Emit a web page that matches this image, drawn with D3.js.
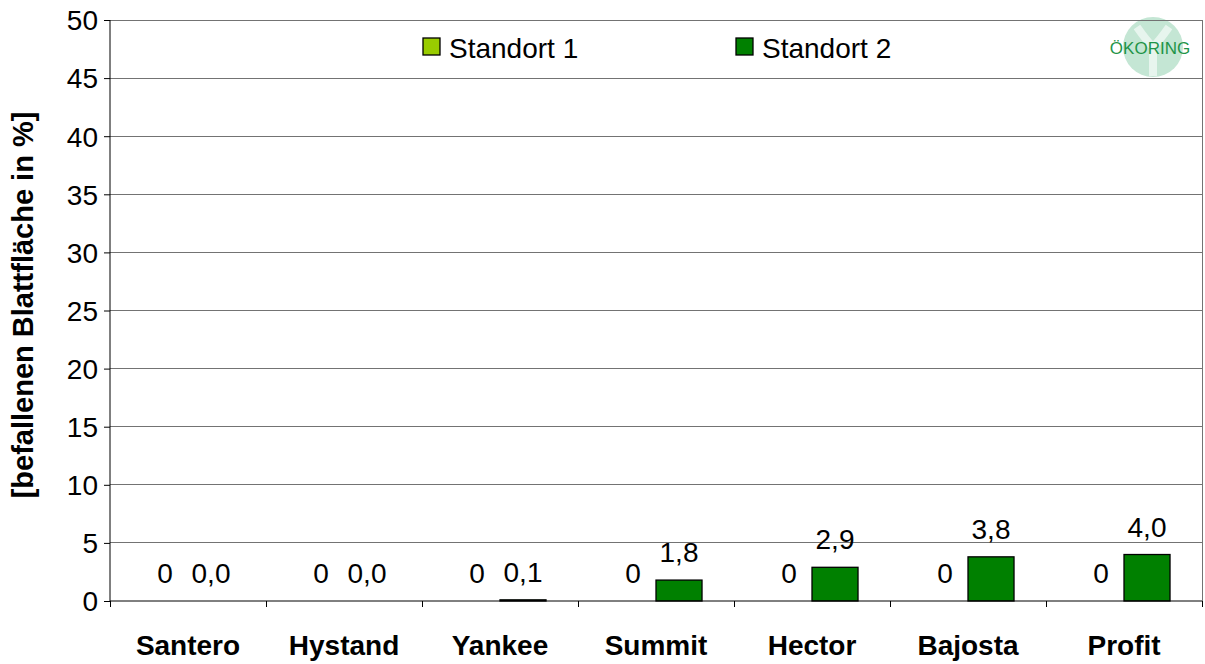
<!DOCTYPE html>
<html><head><meta charset="utf-8">
<script src="https://cdn.jsdelivr.net/npm/d3@7"></script>
<style>body{margin:0;background:#fff;}svg{display:block;font-family:"Liberation Sans",Arial,sans-serif;}</style>
</head><body><svg id="c" width="1205" height="664"></svg>
<script>
const categories = ["Santero","Hystand","Yankee","Summit","Hector","Bajosta","Profit"];
const standort1 = [0,0,0,0,0,0,0];
const standort2 = [0.0,0.0,0.1,1.8,2.9,3.8,4.0];
const seriesNames = ["Standort 1","Standort 2"];
const seriesColors = ["#99cc00","#008000"];
const yTicks = [0,5,10,15,20,25,30,35,40,45,50];
const yTitle = "[befallenen Blattfläche in %]";
const label1 = ["0","0","0","0","0","0","0"];
const label2 = ["0,0","0,0","0,1","1,8","2,9","3,8","4,0"];

const svg = d3.select("#c");
const m = {l:110, r:1202, t:20, b:601};
const x = d3.scaleBand().domain(categories).range([m.l, m.r]).padding(0);
const y = d3.scaleLinear().domain([0,50]).range([m.b, m.t]);
const FS = 28;

// logo (behind plot frame)
const lg = svg.append("g");
lg.append("circle").attr("cx", 1153).attr("cy", 47).attr("r", 30).attr("fill", "#c4e6d4");
lg.append("path").attr("d","M1137,27 Q1146,40 1153,47 Q1160,40 1169,27 M1153,47 L1153,76")
  .attr("stroke","#fff").attr("stroke-width",8).attr("fill","none").attr("opacity",0.6);
lg.append("text").attr("x", 1150).attr("y", 54).attr("text-anchor","middle").attr("font-size", 17)
  .attr("fill","#1f9448").attr("font-family","Liberation Sans, Arial, sans-serif").text("ÖKORING");

// gridlines
svg.append("g").selectAll("line").data(yTicks.filter(d=>d>0)).join("line")
  .attr("x1", m.l).attr("x2", m.r).attr("y1", d=>y(d)).attr("y2", d=>y(d))
  .attr("stroke", "#737373").attr("stroke-width", 1).attr("shape-rendering","crispEdges");
// right frame
svg.append("line").attr("x1", m.r).attr("x2", m.r).attr("y1", m.t).attr("y2", m.b)
  .attr("stroke","#737373").attr("shape-rendering","crispEdges");

// bars
const bw = x.bandwidth() * 0.295;
const series = [standort1, standort2];
series.forEach((s, si) => {
  svg.append("g").selectAll("rect").data(categories).join("rect")
    .attr("x", d => x(d) + x.bandwidth()/2 + (si === 0 ? -bw : 0))
    .attr("width", bw)
    .attr("y", (d,i) => y(s[i]))
    .attr("height", (d,i) => y(0) - y(s[i]))
    .attr("fill", seriesColors[si]).attr("stroke", "#000").attr("stroke-width", 1.3)
    .style("display", (d,i) => s[i] > 0 ? null : "none");
});

// value labels
const labels = [label1, label2];
series.forEach((s, si) => {
  svg.append("g").selectAll("text").data(categories).join("text")
    .attr("x", d => x(d) + x.bandwidth()/2 + (si === 0 ? -bw/2 : bw/2))
    .attr("y", (d,i) => y(s[i]) - 18)
    .attr("text-anchor","middle").attr("font-size", FS).attr("fill","#000")
    .text((d,i) => labels[si][i]);
});

// axes
const ya = d3.axisLeft(y).tickValues(yTicks).tickSize(6).tickFormat(d3.format("d")).tickPadding(6);
const gy = svg.append("g").attr("transform", `translate(${m.l},0)`).call(ya);
gy.select(".domain").attr("stroke","#000").attr("d", `M-0,${m.t}V${m.b}`);
gy.selectAll(".tick line").attr("stroke","#000");
gy.selectAll("text").attr("font-size", FS).attr("font-family","Liberation Sans, Arial, sans-serif").attr("fill","#000").attr("dy","0.35em");

const xa = d3.axisBottom(x).tickSize(0).tickPadding(34);
const gx = svg.append("g").attr("transform", `translate(0,${m.b})`).call(xa);
gx.select(".domain").attr("stroke","#000").attr("d", `M${m.l},0H${m.r}`);
gx.selectAll("text").attr("font-size", FS).attr("font-weight","bold").attr("font-family","Liberation Sans, Arial, sans-serif").attr("fill","#000");
// category boundary ticks
svg.append("g").selectAll("line").data(d3.range(categories.length + 1)).join("line")
  .attr("x1", i => m.l + i * x.step()).attr("x2", i => m.l + i * x.step())
  .attr("y1", m.b).attr("y2", m.b + 6).attr("stroke","#000").attr("shape-rendering","crispEdges");

// y title
svg.append("text").attr("transform", `translate(33,305) rotate(-90)`)
  .attr("text-anchor","middle").attr("font-size", 29).attr("font-weight","bold").text(yTitle);

// legend
const lx = [423, 736];
seriesNames.forEach((n, i) => {
  svg.append("rect").attr("x", lx[i]).attr("y", 38).attr("width", 17).attr("height", 17)
    .attr("fill", seriesColors[i]).attr("stroke","#000").attr("stroke-width",1.3);
  svg.append("text").attr("x", lx[i] + 26).attr("y", 58).attr("font-size", FS).text(n);
});
</script></body></html>
